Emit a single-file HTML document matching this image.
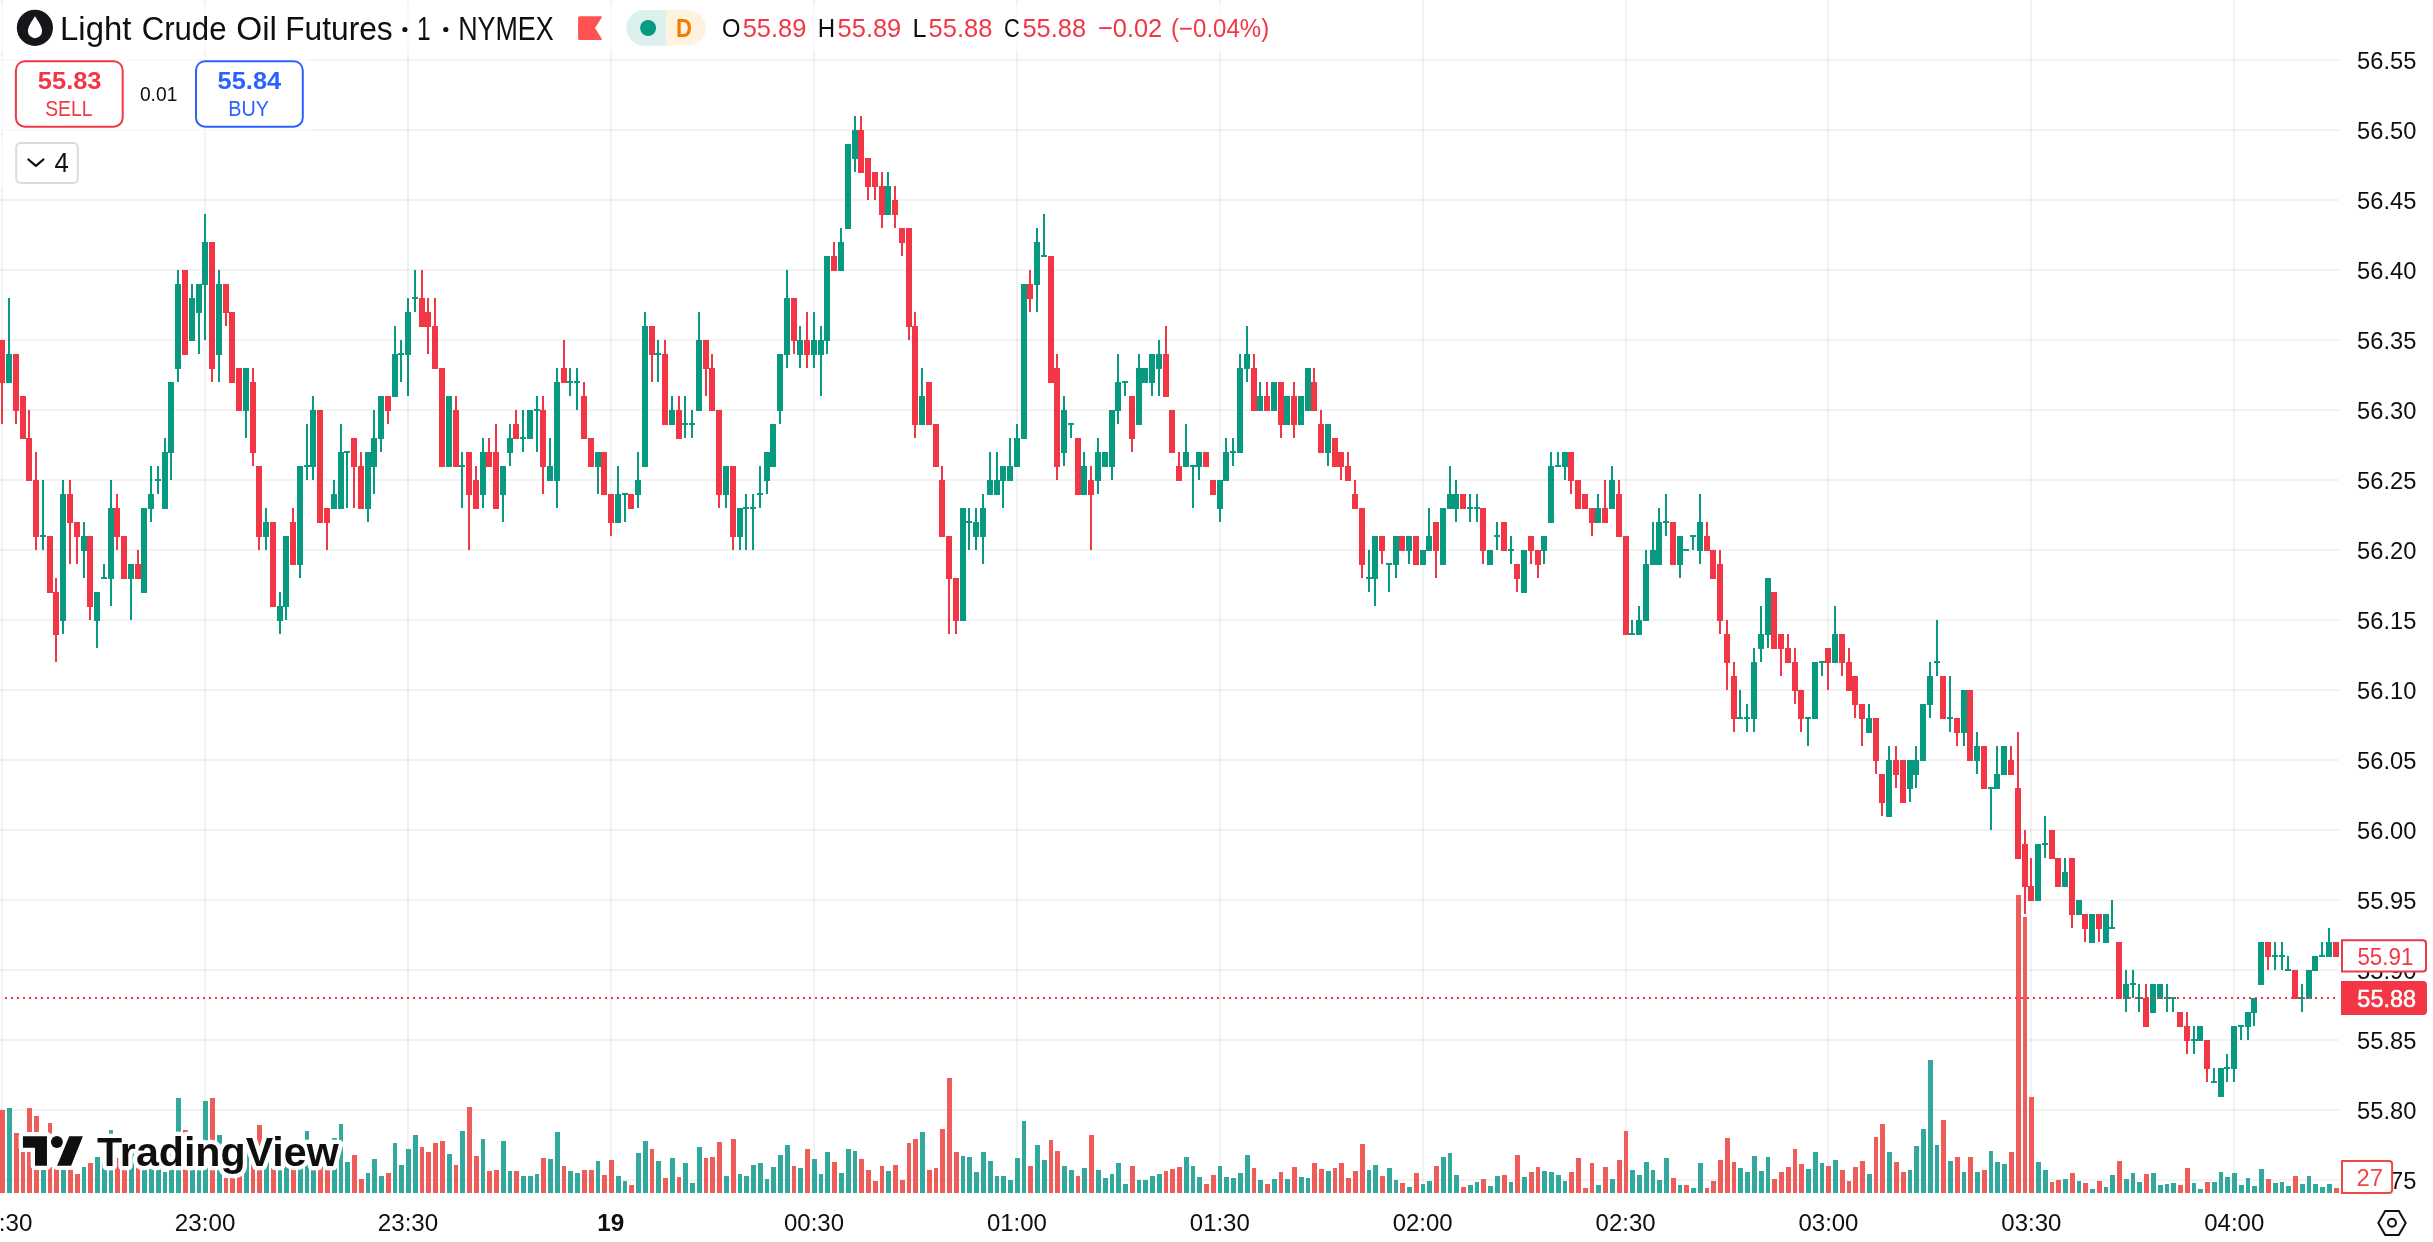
<!DOCTYPE html>
<html><head><meta charset="utf-8"><title>Light Crude Oil Futures</title>
<style>html,body{margin:0;padding:0;background:#fff;}body{width:2433px;height:1242px;position:relative;overflow:hidden;font-family:"Liberation Sans", sans-serif;}</style>
</head><body>
<svg width="2433" height="1242" viewBox="0 0 2433 1242" style="position:absolute;left:0;top:0;font-family:'Liberation Sans', sans-serif" shape-rendering="crispEdges"><rect width="2433" height="1242" fill="#fff"/><path d="M1 0h2v1194h-2zM204 0h2v1194h-2zM407 0h2v1194h-2zM610 0h2v1194h-2zM813 0h2v1194h-2zM1016 0h2v1194h-2zM1219 0h2v1194h-2zM1422 0h2v1194h-2zM1625 0h2v1194h-2zM1827 0h2v1194h-2zM2030 0h2v1194h-2zM2233 0h2v1194h-2z" fill="rgba(0,0,0,0.05)"/><path d="M0 59h2339v2h-2339zM0 129h2339v2h-2339zM0 199h2339v2h-2339zM0 269h2339v2h-2339zM0 339h2339v2h-2339zM0 409h2339v2h-2339zM0 479h2339v2h-2339zM0 549h2339v2h-2339zM0 619h2339v2h-2339zM0 689h2339v2h-2339zM0 759h2339v2h-2339zM0 829h2339v2h-2339zM0 899h2339v2h-2339zM0 969h2339v2h-2339zM0 1039h2339v2h-2339zM0 1109h2339v2h-2339zM0 1179h2339v2h-2339z" fill="rgba(0,0,0,0.05)"/><path d="M0 4h1275v48h-1275zM0 56h310v76h-310zM0 138h84v50h-84z" fill="#fff" fill-opacity="0.6"/><path d="M7 1108h5v85h-5zM41 1153h5v40h-5zM61 1148h5v45h-5zM82 1167h4v26h-4zM95 1157h5v36h-5zM102 1163h5v30h-5zM109 1130h4v63h-4zM129 1153h5v40h-5zM142 1153h5v40h-5zM149 1158h5v35h-5zM156 1163h5v30h-5zM163 1172h4v21h-4zM169 1153h5v40h-5zM176 1098h5v95h-5zM190 1153h5v40h-5zM197 1148h4v45h-4zM203 1101h5v92h-5zM217 1135h5v58h-5zM244 1153h5v40h-5zM264 1158h5v35h-5zM278 1163h4v30h-4zM284 1153h5v40h-5zM298 1148h5v45h-5zM305 1131h4v62h-4zM311 1153h5v40h-5zM332 1138h5v55h-5zM339 1124h4v69h-4zM345 1162h5v31h-5zM366 1173h4v20h-4zM372 1159h5v34h-5zM379 1176h5v17h-5zM393 1143h4v50h-4zM399 1165h5v28h-5zM406 1149h5v44h-5zM413 1135h5v58h-5zM447 1154h5v39h-5zM460 1131h5v62h-5zM481 1139h4v54h-4zM501 1141h5v52h-5zM508 1171h4v22h-4zM521 1176h5v17h-5zM528 1176h5v17h-5zM535 1174h4v19h-4zM548 1159h5v34h-5zM555 1132h5v61h-5zM568 1171h5v22h-5zM575 1173h5v20h-5zM596 1161h4v32h-4zM616 1176h5v17h-5zM623 1181h4v12h-4zM636 1153h5v40h-5zM643 1141h5v52h-5zM656 1161h5v32h-5zM670 1158h5v35h-5zM683 1163h5v30h-5zM690 1183h5v10h-5zM697 1147h5v46h-5zM724 1176h5v17h-5zM738 1174h4v19h-4zM744 1176h5v17h-5zM751 1165h5v28h-5zM758 1163h5v30h-5zM765 1179h4v14h-4zM771 1167h5v26h-5zM778 1155h5v38h-5zM785 1145h5v48h-5zM798 1168h5v25h-5zM812 1159h5v34h-5zM819 1174h4v19h-4zM825 1152h5v41h-5zM839 1173h5v20h-5zM846 1149h5v44h-5zM853 1151h4v42h-4zM886 1171h5v22h-5zM920 1132h5v61h-5zM961 1156h4v37h-4zM967 1157h5v36h-5zM974 1172h5v21h-5zM981 1152h5v41h-5zM988 1161h5v32h-5zM995 1176h4v17h-4zM1001 1176h5v17h-5zM1008 1180h5v13h-5zM1015 1158h5v35h-5zM1022 1121h4v72h-4zM1035 1145h5v48h-5zM1042 1160h5v33h-5zM1062 1166h5v27h-5zM1069 1170h5v23h-5zM1082 1168h5v25h-5zM1096 1170h5v23h-5zM1103 1178h5v15h-5zM1110 1174h4v19h-4zM1116 1163h5v30h-5zM1123 1184h5v9h-5zM1137 1180h4v13h-4zM1143 1180h5v13h-5zM1150 1176h5v17h-5zM1157 1174h5v19h-5zM1184 1157h5v36h-5zM1191 1166h4v27h-4zM1197 1177h5v16h-5zM1218 1166h4v27h-4zM1224 1177h5v16h-5zM1231 1178h5v15h-5zM1238 1173h5v20h-5zM1245 1155h5v38h-5zM1258 1180h5v13h-5zM1272 1179h5v14h-5zM1285 1179h5v14h-5zM1299 1177h5v16h-5zM1306 1178h4v15h-4zM1326 1171h5v22h-5zM1367 1170h4v23h-4zM1373 1165h5v28h-5zM1387 1168h5v25h-5zM1394 1180h4v13h-4zM1407 1187h5v6h-5zM1421 1184h4v9h-4zM1427 1181h5v12h-5zM1441 1157h5v36h-5zM1448 1153h4v40h-4zM1454 1175h5v18h-5zM1468 1185h5v8h-5zM1475 1182h4v11h-4zM1488 1186h5v7h-5zM1495 1176h5v17h-5zM1509 1182h4v11h-4zM1522 1177h5v16h-5zM1542 1171h5v22h-5zM1549 1172h5v21h-5zM1556 1175h5v18h-5zM1563 1181h4v12h-4zM1596 1185h5v8h-5zM1610 1179h5v14h-5zM1630 1170h5v23h-5zM1637 1175h5v18h-5zM1644 1162h5v31h-5zM1651 1170h4v23h-4zM1657 1180h5v13h-5zM1664 1158h5v35h-5zM1678 1185h4v8h-4zM1691 1188h5v5h-5zM1698 1163h5v30h-5zM1738 1168h5v25h-5zM1745 1172h5v21h-5zM1752 1156h5v37h-5zM1759 1171h5v22h-5zM1766 1157h4v36h-4zM1806 1169h5v24h-5zM1813 1152h5v41h-5zM1820 1163h4v30h-4zM1833 1160h5v33h-5zM1867 1174h5v19h-5zM1887 1152h5v41h-5zM1908 1170h4v23h-4zM1914 1146h5v47h-5zM1921 1129h5v64h-5zM1928 1060h5v133h-5zM1935 1145h4v48h-4zM1948 1161h5v32h-5zM1962 1172h4v21h-4zM1975 1172h5v21h-5zM1989 1151h4v42h-4zM1995 1162h5v31h-5zM2002 1164h5v29h-5zM2036 1162h5v31h-5zM2043 1170h5v23h-5zM2063 1179h5v14h-5zM2077 1181h4v12h-4zM2090 1189h5v4h-5zM2104 1187h4v6h-4zM2110 1175h5v18h-5zM2124 1179h5v14h-5zM2131 1173h4v20h-4zM2137 1182h5v11h-5zM2151 1173h5v20h-5zM2158 1185h5v8h-5zM2165 1184h4v9h-4zM2171 1183h5v10h-5zM2192 1183h4v10h-4zM2198 1189h5v4h-5zM2212 1182h5v11h-5zM2219 1172h4v21h-4zM2225 1177h5v16h-5zM2232 1173h5v20h-5zM2239 1185h5v8h-5zM2246 1178h4v15h-4zM2252 1186h5v7h-5zM2259 1169h5v24h-5zM2273 1183h5v10h-5zM2280 1182h4v11h-4zM2286 1186h5v7h-5zM2300 1184h5v9h-5zM2307 1176h4v17h-4zM2313 1184h5v9h-5zM2320 1187h5v6h-5zM2327 1184h5v9h-5z" fill="#33a99e"/><path d="M0 1110h5v83h-5zM14 1133h5v60h-5zM21 1152h4v41h-4zM27 1108h5v85h-5zM34 1116h5v77h-5zM48 1123h4v70h-4zM54 1158h5v35h-5zM68 1158h5v35h-5zM75 1174h5v19h-5zM88 1163h5v30h-5zM115 1158h5v35h-5zM122 1163h5v30h-5zM136 1163h4v30h-4zM183 1130h5v63h-5zM210 1098h5v95h-5zM224 1178h4v15h-4zM230 1163h5v30h-5zM237 1158h5v35h-5zM251 1158h4v35h-4zM257 1125h5v68h-5zM271 1153h5v40h-5zM291 1158h5v35h-5zM318 1148h5v45h-5zM325 1163h5v30h-5zM352 1155h5v38h-5zM359 1179h5v14h-5zM386 1173h5v20h-5zM420 1147h4v46h-4zM426 1152h5v41h-5zM433 1143h5v50h-5zM440 1141h5v52h-5zM454 1165h4v28h-4zM467 1107h5v86h-5zM474 1156h5v37h-5zM487 1171h5v22h-5zM494 1170h5v23h-5zM514 1171h5v22h-5zM541 1158h5v35h-5zM562 1166h4v27h-4zM582 1170h5v23h-5zM589 1170h5v23h-5zM602 1175h5v18h-5zM609 1160h5v33h-5zM629 1185h5v8h-5zM650 1149h4v44h-4zM663 1178h5v15h-5zM677 1177h4v16h-4zM704 1158h4v35h-4zM710 1157h5v36h-5zM717 1142h5v51h-5zM731 1139h5v54h-5zM792 1166h4v27h-4zM805 1149h5v44h-5zM832 1162h5v31h-5zM859 1159h5v34h-5zM866 1170h5v23h-5zM873 1181h5v12h-5zM880 1166h4v27h-4zM893 1165h5v28h-5zM900 1180h5v13h-5zM907 1143h4v50h-4zM913 1139h5v54h-5zM927 1170h5v23h-5zM934 1168h4v25h-4zM940 1129h5v64h-5zM947 1078h5v115h-5zM954 1152h5v41h-5zM1028 1166h5v27h-5zM1049 1140h4v53h-4zM1055 1151h5v42h-5zM1076 1176h4v17h-4zM1089 1135h5v58h-5zM1130 1166h5v27h-5zM1164 1171h4v22h-4zM1170 1169h5v24h-5zM1177 1167h5v26h-5zM1204 1184h5v9h-5zM1211 1175h5v18h-5zM1252 1168h4v25h-4zM1265 1184h5v9h-5zM1279 1172h4v21h-4zM1292 1167h5v26h-5zM1312 1163h5v30h-5zM1319 1169h5v24h-5zM1333 1168h4v25h-4zM1339 1163h5v30h-5zM1346 1178h5v15h-5zM1353 1171h5v22h-5zM1360 1144h5v49h-5zM1380 1176h5v17h-5zM1400 1183h5v10h-5zM1414 1173h5v20h-5zM1434 1166h5v27h-5zM1461 1187h5v6h-5zM1481 1179h5v14h-5zM1502 1175h5v18h-5zM1515 1155h5v38h-5zM1529 1172h5v21h-5zM1536 1167h4v26h-4zM1569 1172h5v21h-5zM1576 1158h5v35h-5zM1583 1188h5v5h-5zM1590 1163h4v30h-4zM1603 1167h5v26h-5zM1617 1160h5v33h-5zM1624 1131h4v62h-4zM1671 1178h5v15h-5zM1684 1185h5v8h-5zM1705 1188h4v5h-4zM1711 1181h5v12h-5zM1718 1160h5v33h-5zM1725 1138h5v55h-5zM1732 1162h4v31h-4zM1772 1179h5v14h-5zM1779 1172h5v21h-5zM1786 1167h5v26h-5zM1793 1149h4v44h-4zM1799 1164h5v29h-5zM1826 1166h5v27h-5zM1840 1170h5v23h-5zM1847 1181h4v12h-4zM1853 1167h5v26h-5zM1860 1161h5v32h-5zM1874 1137h4v56h-4zM1880 1124h5v69h-5zM1894 1162h5v31h-5zM1901 1172h5v21h-5zM1941 1120h5v73h-5zM1955 1157h5v36h-5zM1968 1157h5v36h-5zM1982 1170h5v23h-5zM2009 1152h5v41h-5zM2016 895h5v298h-5zM2023 917h4v276h-4zM2029 1097h5v96h-5zM2050 1182h4v11h-4zM2056 1180h5v13h-5zM2070 1173h5v20h-5zM2083 1183h5v10h-5zM2097 1181h5v12h-5zM2117 1161h5v32h-5zM2144 1174h5v19h-5zM2178 1185h5v8h-5zM2185 1168h5v25h-5zM2205 1182h5v11h-5zM2266 1179h5v14h-5zM2293 1176h5v17h-5zM2334 1188h5v5h-5z" fill="#ee5d59"/><path d="M8 298h2v84h-2zM6 354h6v29h-6zM42 480h2v70h-2zM40 535h6v2h-6zM62 480h2v154h-2zM60 494h6v127h-6zM83 522h2v56h-2zM81 536h6v15h-6zM96 592h2v56h-2zM94 592h6v29h-6zM103 564h2v14h-2zM101 577h6v2h-6zM110 480h2v126h-2zM108 508h6v71h-6zM130 564h2v56h-2zM128 564h6v15h-6zM143 508h2v84h-2zM141 508h6v85h-6zM150 466h2v56h-2zM148 494h6v15h-6zM157 466h2v28h-2zM155 479h6v2h-6zM164 438h2v70h-2zM162 452h6v57h-6zM170 382h2v98h-2zM168 382h6v71h-6zM177 270h2v112h-2zM175 284h6v85h-6zM191 284h2v56h-2zM189 298h6v43h-6zM198 284h2v70h-2zM196 284h6v29h-6zM204 214h2v126h-2zM202 242h6v43h-6zM218 270h2v112h-2zM216 284h6v71h-6zM245 368h2v70h-2zM243 368h6v43h-6zM265 508h2v42h-2zM263 522h6v15h-6zM279 592h2v42h-2zM277 606h6v15h-6zM285 536h2v84h-2zM283 536h6v71h-6zM299 466h2v112h-2zM297 466h6v99h-6zM306 424h2v56h-2zM304 465h6v2h-6zM312 396h2v84h-2zM310 410h6v57h-6zM333 480h2v28h-2zM331 494h6v15h-6zM340 424h2v84h-2zM338 452h6v57h-6zM346 452h2v56h-2zM344 451h6v2h-6zM367 452h2v70h-2zM365 452h6v57h-6zM373 410h2v84h-2zM371 438h6v29h-6zM380 396h2v56h-2zM378 396h6v43h-6zM394 326h2v70h-2zM392 354h6v43h-6zM400 340h2v42h-2zM398 353h6v2h-6zM407 298h2v98h-2zM405 312h6v43h-6zM414 270h2v42h-2zM412 297h6v2h-6zM448 396h2v70h-2zM446 396h6v71h-6zM461 452h2v56h-2zM459 465h6v2h-6zM482 438h2v70h-2zM480 452h6v43h-6zM502 466h2v56h-2zM500 466h6v29h-6zM509 424h2v42h-2zM507 438h6v15h-6zM522 410h2v42h-2zM520 437h6v2h-6zM529 410h2v28h-2zM527 410h6v29h-6zM536 396h2v56h-2zM534 409h6v2h-6zM549 438h2v42h-2zM547 466h6v15h-6zM556 368h2v140h-2zM554 382h6v99h-6zM569 368h2v28h-2zM567 381h6v2h-6zM576 368h2v42h-2zM574 381h6v2h-6zM597 452h2v42h-2zM595 452h6v15h-6zM617 466h2v56h-2zM615 494h6v29h-6zM624 494h2v28h-2zM622 493h6v2h-6zM637 452h2v56h-2zM635 480h6v15h-6zM644 312h2v154h-2zM642 326h6v141h-6zM657 340h2v42h-2zM655 353h6v2h-6zM671 396h2v28h-2zM669 410h6v15h-6zM684 396h2v42h-2zM682 423h6v2h-6zM691 410h2v28h-2zM689 423h6v2h-6zM698 312h2v98h-2zM696 340h6v71h-6zM725 466h2v42h-2zM723 466h6v29h-6zM739 508h2v42h-2zM737 508h6v29h-6zM745 494h2v56h-2zM743 507h6v2h-6zM752 494h2v56h-2zM750 507h6v2h-6zM759 466h2v42h-2zM757 493h6v2h-6zM766 452h2v42h-2zM764 452h6v29h-6zM772 424h2v42h-2zM770 424h6v43h-6zM779 354h2v70h-2zM777 354h6v57h-6zM786 270h2v98h-2zM784 298h6v57h-6zM799 326h2v42h-2zM797 340h6v15h-6zM813 312h2v56h-2zM811 340h6v15h-6zM820 326h2v70h-2zM818 340h6v15h-6zM826 256h2v98h-2zM824 256h6v85h-6zM840 228h2v42h-2zM838 242h6v29h-6zM847 144h2v84h-2zM845 144h6v85h-6zM854 116h2v56h-2zM852 130h6v29h-6zM887 172h2v42h-2zM885 186h6v29h-6zM921 368h2v56h-2zM919 396h6v29h-6zM962 508h2v112h-2zM960 508h6v113h-6zM968 508h2v42h-2zM966 521h6v2h-6zM975 508h2v42h-2zM973 522h6v15h-6zM982 494h2v70h-2zM980 508h6v29h-6zM989 452h2v42h-2zM987 480h6v15h-6zM996 452h2v42h-2zM994 480h6v15h-6zM1002 466h2v42h-2zM1000 466h6v15h-6zM1009 438h2v42h-2zM1007 466h6v15h-6zM1016 424h2v42h-2zM1014 438h6v29h-6zM1023 284h2v154h-2zM1021 284h6v155h-6zM1036 228h2v84h-2zM1034 242h6v43h-6zM1043 214h2v42h-2zM1041 255h6v2h-6zM1063 396h2v70h-2zM1061 410h6v43h-6zM1070 424h2v14h-2zM1068 423h6v2h-6zM1083 452h2v42h-2zM1081 466h6v29h-6zM1097 438h2v56h-2zM1095 452h6v29h-6zM1104 452h2v14h-2zM1102 452h6v15h-6zM1111 410h2v70h-2zM1109 410h6v57h-6zM1117 354h2v70h-2zM1115 382h6v29h-6zM1124 382h2v14h-2zM1122 381h6v2h-6zM1138 354h2v70h-2zM1136 368h6v57h-6zM1144 368h2v14h-2zM1142 368h6v15h-6zM1151 354h2v42h-2zM1149 354h6v29h-6zM1158 340h2v56h-2zM1156 354h6v15h-6zM1185 424h2v42h-2zM1183 452h6v15h-6zM1192 466h2v42h-2zM1190 465h6v2h-6zM1198 452h2v28h-2zM1196 452h6v15h-6zM1219 480h2v42h-2zM1217 480h6v29h-6zM1225 438h2v42h-2zM1223 452h6v29h-6zM1232 438h2v28h-2zM1230 451h6v2h-6zM1239 354h2v98h-2zM1237 368h6v85h-6zM1246 326h2v56h-2zM1244 354h6v15h-6zM1259 382h2v28h-2zM1257 396h6v15h-6zM1273 382h2v28h-2zM1271 382h6v29h-6zM1286 396h2v28h-2zM1284 396h6v29h-6zM1300 396h2v28h-2zM1298 396h6v29h-6zM1307 368h2v42h-2zM1305 368h6v43h-6zM1327 424h2v42h-2zM1325 424h6v29h-6zM1368 550h2v42h-2zM1366 577h6v2h-6zM1374 536h2v70h-2zM1372 536h6v43h-6zM1388 564h2v28h-2zM1386 563h6v2h-6zM1395 536h2v42h-2zM1393 536h6v29h-6zM1408 536h2v28h-2zM1406 536h6v15h-6zM1422 550h2v14h-2zM1420 550h6v15h-6zM1428 508h2v42h-2zM1426 536h6v15h-6zM1442 508h2v56h-2zM1440 508h6v57h-6zM1449 466h2v42h-2zM1447 494h6v15h-6zM1455 480h2v42h-2zM1453 494h6v15h-6zM1469 494h2v28h-2zM1467 507h6v2h-6zM1476 494h2v28h-2zM1474 507h6v2h-6zM1489 550h2v14h-2zM1487 550h6v15h-6zM1496 522h2v28h-2zM1494 535h6v2h-6zM1510 536h2v28h-2zM1508 549h6v2h-6zM1523 550h2v42h-2zM1521 550h6v43h-6zM1543 536h2v28h-2zM1541 536h6v15h-6zM1550 452h2v70h-2zM1548 466h6v57h-6zM1557 452h2v14h-2zM1555 465h6v2h-6zM1564 452h2v28h-2zM1562 452h6v15h-6zM1597 494h2v28h-2zM1595 508h6v15h-6zM1611 466h2v42h-2zM1609 480h6v29h-6zM1631 620h2v14h-2zM1629 633h6v2h-6zM1638 606h2v28h-2zM1636 620h6v15h-6zM1645 550h2v70h-2zM1643 564h6v57h-6zM1652 522h2v42h-2zM1650 550h6v15h-6zM1658 508h2v56h-2zM1656 522h6v43h-6zM1665 494h2v42h-2zM1663 521h6v2h-6zM1679 536h2v42h-2zM1677 536h6v29h-6zM1683 549h6v2h-6zM1692 536h2v14h-2zM1690 535h6v2h-6zM1699 494h2v70h-2zM1697 522h6v29h-6zM1739 690h2v28h-2zM1737 717h6v2h-6zM1746 704h2v28h-2zM1744 717h6v2h-6zM1753 648h2v84h-2zM1751 662h6v57h-6zM1760 606h2v56h-2zM1758 634h6v15h-6zM1767 578h2v70h-2zM1765 578h6v57h-6zM1807 718h2v28h-2zM1805 717h6v2h-6zM1814 662h2v56h-2zM1812 662h6v57h-6zM1821 662h2v14h-2zM1819 661h6v2h-6zM1834 606h2v56h-2zM1832 634h6v29h-6zM1868 704h2v28h-2zM1866 718h6v15h-6zM1888 746h2v70h-2zM1886 760h6v57h-6zM1909 760h2v42h-2zM1907 760h6v29h-6zM1915 746h2v42h-2zM1913 760h6v15h-6zM1922 704h2v56h-2zM1920 704h6v57h-6zM1929 662h2v56h-2zM1927 676h6v29h-6zM1936 620h2v56h-2zM1934 661h6v2h-6zM1949 676h2v56h-2zM1947 717h6v2h-6zM1963 690h2v56h-2zM1961 690h6v43h-6zM1976 732h2v42h-2zM1974 746h6v15h-6zM1990 788h2v42h-2zM1988 787h6v2h-6zM1996 746h2v42h-2zM1994 774h6v15h-6zM2003 746h2v28h-2zM2001 746h6v29h-6zM2037 844h2v56h-2zM2035 844h6v57h-6zM2044 816h2v42h-2zM2042 843h6v2h-6zM2064 858h2v28h-2zM2062 872h6v15h-6zM2078 900h2v14h-2zM2076 900h6v15h-6zM2091 914h2v28h-2zM2089 914h6v29h-6zM2105 914h2v28h-2zM2103 914h6v29h-6zM2111 900h2v28h-2zM2109 927h6v2h-6zM2125 970h2v42h-2zM2123 984h6v15h-6zM2132 970h2v28h-2zM2130 983h6v2h-6zM2138 984h2v28h-2zM2136 997h6v2h-6zM2152 984h2v28h-2zM2150 984h6v29h-6zM2159 984h2v14h-2zM2157 984h6v15h-6zM2166 984h2v28h-2zM2164 997h6v2h-6zM2172 998h2v14h-2zM2170 997h6v2h-6zM2193 1026h2v28h-2zM2191 1039h6v2h-6zM2199 1026h2v14h-2zM2197 1026h6v15h-6zM2213 1068h2v14h-2zM2211 1081h6v2h-6zM2220 1068h2v28h-2zM2218 1068h6v29h-6zM2226 1054h2v28h-2zM2224 1067h6v2h-6zM2233 1026h2v56h-2zM2231 1026h6v43h-6zM2240 1026h2v14h-2zM2238 1025h6v2h-6zM2247 1012h2v28h-2zM2245 1012h6v15h-6zM2253 998h2v28h-2zM2251 998h6v15h-6zM2260 942h2v42h-2zM2258 942h6v43h-6zM2274 942h2v28h-2zM2272 955h6v2h-6zM2281 942h2v28h-2zM2279 955h6v2h-6zM2287 956h2v14h-2zM2285 969h6v2h-6zM2301 984h2v28h-2zM2299 997h6v2h-6zM2308 970h2v28h-2zM2306 970h6v29h-6zM2314 956h2v14h-2zM2312 956h6v15h-6zM2321 942h2v14h-2zM2319 955h6v2h-6zM2328 928h2v28h-2zM2326 942h6v15h-6z" fill="#089981"/><path d="M1 340h2v84h-2zM0 340h5v43h-5zM15 354h2v70h-2zM13 354h6v57h-6zM22 396h2v42h-2zM20 396h6v43h-6zM28 410h2v70h-2zM26 438h6v43h-6zM35 452h2v98h-2zM33 480h6v57h-6zM49 536h2v56h-2zM47 536h6v57h-6zM55 578h2v84h-2zM53 592h6v43h-6zM69 480h2v84h-2zM67 494h6v29h-6zM76 522h2v42h-2zM74 522h6v15h-6zM89 536h2v84h-2zM87 536h6v71h-6zM116 494h2v56h-2zM114 508h6v29h-6zM123 536h2v42h-2zM121 536h6v43h-6zM137 550h2v28h-2zM135 564h6v15h-6zM184 270h2v84h-2zM182 270h6v85h-6zM211 242h2v140h-2zM209 242h6v127h-6zM225 284h2v42h-2zM223 284h6v29h-6zM231 312h2v70h-2zM229 312h6v71h-6zM238 368h2v42h-2zM236 368h6v43h-6zM252 368h2v98h-2zM250 382h6v71h-6zM258 466h2v84h-2zM256 466h6v71h-6zM272 522h2v84h-2zM270 522h6v85h-6zM292 508h2v56h-2zM290 522h6v43h-6zM319 410h2v112h-2zM317 410h6v113h-6zM326 508h2v42h-2zM324 508h6v15h-6zM353 438h2v70h-2zM351 438h6v29h-6zM360 452h2v56h-2zM358 466h6v43h-6zM387 396h2v28h-2zM385 396h6v15h-6zM421 270h2v56h-2zM419 298h6v29h-6zM427 298h2v56h-2zM425 312h6v15h-6zM434 298h2v70h-2zM432 326h6v43h-6zM441 368h2v98h-2zM439 368h6v99h-6zM455 396h2v70h-2zM453 410h6v57h-6zM468 452h2v98h-2zM466 452h6v43h-6zM475 466h2v42h-2zM473 480h6v29h-6zM488 438h2v28h-2zM486 452h6v15h-6zM495 424h2v84h-2zM493 452h6v57h-6zM515 410h2v28h-2zM513 424h6v15h-6zM542 396h2v98h-2zM540 410h6v57h-6zM563 340h2v42h-2zM561 368h6v15h-6zM583 382h2v56h-2zM581 396h6v43h-6zM590 438h2v28h-2zM588 438h6v29h-6zM603 452h2v42h-2zM601 452h6v43h-6zM610 494h2v42h-2zM608 494h6v29h-6zM630 494h2v14h-2zM628 494h6v15h-6zM651 326h2v56h-2zM649 326h6v29h-6zM664 340h2v84h-2zM662 354h6v71h-6zM678 396h2v42h-2zM676 410h6v29h-6zM705 340h2v56h-2zM703 340h6v29h-6zM711 354h2v56h-2zM709 368h6v43h-6zM718 410h2v98h-2zM716 410h6v85h-6zM732 466h2v84h-2zM730 466h6v71h-6zM793 298h2v56h-2zM791 298h6v43h-6zM806 312h2v56h-2zM804 340h6v15h-6zM833 242h2v28h-2zM831 256h6v15h-6zM860 116h2v56h-2zM858 130h6v43h-6zM867 158h2v42h-2zM865 158h6v29h-6zM874 172h2v28h-2zM872 172h6v15h-6zM881 172h2v56h-2zM879 186h6v29h-6zM894 186h2v42h-2zM892 200h6v15h-6zM901 228h2v28h-2zM899 228h6v15h-6zM908 228h2v112h-2zM906 228h6v99h-6zM914 312h2v126h-2zM912 326h6v99h-6zM928 382h2v42h-2zM926 382h6v43h-6zM935 424h2v42h-2zM933 424h6v43h-6zM941 466h2v70h-2zM939 480h6v57h-6zM948 536h2v98h-2zM946 536h6v43h-6zM955 578h2v56h-2zM953 578h6v43h-6zM1029 270h2v42h-2zM1027 284h6v15h-6zM1050 256h2v126h-2zM1048 256h6v127h-6zM1056 354h2v126h-2zM1054 368h6v99h-6zM1077 438h2v56h-2zM1075 438h6v57h-6zM1090 466h2v84h-2zM1088 480h6v15h-6zM1131 396h2v56h-2zM1129 396h6v43h-6zM1165 326h2v70h-2zM1163 354h6v43h-6zM1171 410h2v42h-2zM1169 410h6v43h-6zM1178 452h2v28h-2zM1176 466h6v15h-6zM1205 452h2v14h-2zM1203 452h6v15h-6zM1212 480h2v14h-2zM1210 480h6v15h-6zM1253 354h2v56h-2zM1251 368h6v43h-6zM1266 382h2v28h-2zM1264 396h6v15h-6zM1280 382h2v56h-2zM1278 382h6v43h-6zM1293 382h2v56h-2zM1291 396h6v29h-6zM1313 368h2v42h-2zM1311 382h6v29h-6zM1320 410h2v42h-2zM1318 424h6v29h-6zM1334 438h2v28h-2zM1332 438h6v29h-6zM1340 452h2v28h-2zM1338 452h6v15h-6zM1347 452h2v28h-2zM1345 466h6v15h-6zM1354 480h2v28h-2zM1352 494h6v15h-6zM1361 508h2v70h-2zM1359 508h6v57h-6zM1381 536h2v28h-2zM1379 536h6v15h-6zM1401 536h2v14h-2zM1399 536h6v15h-6zM1415 536h2v28h-2zM1413 536h6v29h-6zM1435 522h2v56h-2zM1433 522h6v29h-6zM1462 494h2v14h-2zM1460 494h6v15h-6zM1482 508h2v56h-2zM1480 508h6v43h-6zM1503 522h2v28h-2zM1501 522h6v29h-6zM1516 564h2v28h-2zM1514 564h6v15h-6zM1530 536h2v28h-2zM1528 536h6v15h-6zM1537 550h2v28h-2zM1535 550h6v15h-6zM1570 452h2v42h-2zM1568 452h6v29h-6zM1577 480h2v28h-2zM1575 480h6v29h-6zM1584 494h2v14h-2zM1582 494h6v15h-6zM1591 508h2v28h-2zM1589 508h6v15h-6zM1604 480h2v42h-2zM1602 508h6v15h-6zM1618 480h2v56h-2zM1616 494h6v43h-6zM1625 536h2v98h-2zM1623 536h6v99h-6zM1672 522h2v42h-2zM1670 522h6v43h-6zM1706 522h2v28h-2zM1704 536h6v15h-6zM1712 550h2v28h-2zM1710 550h6v29h-6zM1719 550h2v84h-2zM1717 564h6v57h-6zM1726 620h2v70h-2zM1724 634h6v29h-6zM1733 662h2v70h-2zM1731 676h6v43h-6zM1773 592h2v56h-2zM1771 592h6v57h-6zM1780 634h2v42h-2zM1778 634h6v15h-6zM1787 634h2v28h-2zM1785 648h6v15h-6zM1794 648h2v56h-2zM1792 662h6v29h-6zM1800 690h2v42h-2zM1798 690h6v29h-6zM1827 648h2v42h-2zM1825 648h6v15h-6zM1841 634h2v42h-2zM1839 634h6v29h-6zM1848 648h2v42h-2zM1846 662h6v29h-6zM1854 676h2v42h-2zM1852 676h6v29h-6zM1861 704h2v42h-2zM1859 704h6v15h-6zM1875 718h2v56h-2zM1873 718h6v43h-6zM1881 774h2v42h-2zM1879 774h6v29h-6zM1895 746h2v42h-2zM1893 760h6v15h-6zM1902 760h2v42h-2zM1900 760h6v43h-6zM1942 676h2v42h-2zM1940 676h6v43h-6zM1956 718h2v28h-2zM1954 718h6v15h-6zM1969 690h2v70h-2zM1967 690h6v71h-6zM1983 746h2v42h-2zM1981 746h6v43h-6zM2010 746h2v28h-2zM2008 760h6v15h-6zM2017 732h2v126h-2zM2015 788h6v71h-6zM2024 830h2v84h-2zM2022 844h6v43h-6zM2030 858h2v42h-2zM2028 886h6v15h-6zM2051 830h2v28h-2zM2049 830h6v29h-6zM2057 858h2v28h-2zM2055 858h6v29h-6zM2071 858h2v70h-2zM2069 858h6v57h-6zM2084 914h2v28h-2zM2082 914h6v15h-6zM2098 914h2v28h-2zM2096 914h6v15h-6zM2118 942h2v56h-2zM2116 942h6v57h-6zM2145 984h2v42h-2zM2143 998h6v29h-6zM2179 1012h2v14h-2zM2177 1012h6v15h-6zM2186 1012h2v42h-2zM2184 1026h6v15h-6zM2206 1040h2v42h-2zM2204 1040h6v29h-6zM2267 942h2v28h-2zM2265 942h6v15h-6zM2294 970h2v28h-2zM2292 970h6v29h-6zM2335 942h2v14h-2zM2333 942h6v15h-6z" fill="#f23645"/><path d="M5 997h2v2h-2zM11 997h2v2h-2zM17 997h2v2h-2zM23 997h2v2h-2zM29 997h2v2h-2zM35 997h2v2h-2zM41 997h2v2h-2zM47 997h2v2h-2zM53 997h2v2h-2zM59 997h2v2h-2zM65 997h2v2h-2zM71 997h2v2h-2zM77 997h2v2h-2zM83 997h2v2h-2zM89 997h2v2h-2zM95 997h2v2h-2zM101 997h2v2h-2zM107 997h2v2h-2zM113 997h2v2h-2zM119 997h2v2h-2zM125 997h2v2h-2zM131 997h2v2h-2zM137 997h2v2h-2zM143 997h2v2h-2zM149 997h2v2h-2zM155 997h2v2h-2zM161 997h2v2h-2zM167 997h2v2h-2zM173 997h2v2h-2zM179 997h2v2h-2zM185 997h2v2h-2zM191 997h2v2h-2zM197 997h2v2h-2zM203 997h2v2h-2zM209 997h2v2h-2zM215 997h2v2h-2zM221 997h2v2h-2zM227 997h2v2h-2zM233 997h2v2h-2zM239 997h2v2h-2zM245 997h2v2h-2zM251 997h2v2h-2zM257 997h2v2h-2zM263 997h2v2h-2zM269 997h2v2h-2zM275 997h2v2h-2zM281 997h2v2h-2zM287 997h2v2h-2zM293 997h2v2h-2zM299 997h2v2h-2zM305 997h2v2h-2zM311 997h2v2h-2zM317 997h2v2h-2zM323 997h2v2h-2zM329 997h2v2h-2zM335 997h2v2h-2zM341 997h2v2h-2zM347 997h2v2h-2zM353 997h2v2h-2zM359 997h2v2h-2zM365 997h2v2h-2zM371 997h2v2h-2zM377 997h2v2h-2zM383 997h2v2h-2zM389 997h2v2h-2zM395 997h2v2h-2zM401 997h2v2h-2zM407 997h2v2h-2zM413 997h2v2h-2zM419 997h2v2h-2zM425 997h2v2h-2zM431 997h2v2h-2zM437 997h2v2h-2zM443 997h2v2h-2zM449 997h2v2h-2zM455 997h2v2h-2zM461 997h2v2h-2zM467 997h2v2h-2zM473 997h2v2h-2zM479 997h2v2h-2zM485 997h2v2h-2zM491 997h2v2h-2zM497 997h2v2h-2zM503 997h2v2h-2zM509 997h2v2h-2zM515 997h2v2h-2zM521 997h2v2h-2zM527 997h2v2h-2zM533 997h2v2h-2zM539 997h2v2h-2zM545 997h2v2h-2zM551 997h2v2h-2zM557 997h2v2h-2zM563 997h2v2h-2zM569 997h2v2h-2zM575 997h2v2h-2zM581 997h2v2h-2zM587 997h2v2h-2zM593 997h2v2h-2zM599 997h2v2h-2zM605 997h2v2h-2zM611 997h2v2h-2zM617 997h2v2h-2zM623 997h2v2h-2zM629 997h2v2h-2zM635 997h2v2h-2zM641 997h2v2h-2zM647 997h2v2h-2zM653 997h2v2h-2zM659 997h2v2h-2zM665 997h2v2h-2zM671 997h2v2h-2zM677 997h2v2h-2zM683 997h2v2h-2zM689 997h2v2h-2zM695 997h2v2h-2zM701 997h2v2h-2zM707 997h2v2h-2zM713 997h2v2h-2zM719 997h2v2h-2zM725 997h2v2h-2zM731 997h2v2h-2zM737 997h2v2h-2zM743 997h2v2h-2zM749 997h2v2h-2zM755 997h2v2h-2zM761 997h2v2h-2zM767 997h2v2h-2zM773 997h2v2h-2zM779 997h2v2h-2zM785 997h2v2h-2zM791 997h2v2h-2zM797 997h2v2h-2zM803 997h2v2h-2zM809 997h2v2h-2zM815 997h2v2h-2zM821 997h2v2h-2zM827 997h2v2h-2zM833 997h2v2h-2zM839 997h2v2h-2zM845 997h2v2h-2zM851 997h2v2h-2zM857 997h2v2h-2zM863 997h2v2h-2zM869 997h2v2h-2zM875 997h2v2h-2zM881 997h2v2h-2zM887 997h2v2h-2zM893 997h2v2h-2zM899 997h2v2h-2zM905 997h2v2h-2zM911 997h2v2h-2zM917 997h2v2h-2zM923 997h2v2h-2zM929 997h2v2h-2zM935 997h2v2h-2zM941 997h2v2h-2zM947 997h2v2h-2zM953 997h2v2h-2zM959 997h2v2h-2zM965 997h2v2h-2zM971 997h2v2h-2zM977 997h2v2h-2zM983 997h2v2h-2zM989 997h2v2h-2zM995 997h2v2h-2zM1001 997h2v2h-2zM1007 997h2v2h-2zM1013 997h2v2h-2zM1019 997h2v2h-2zM1025 997h2v2h-2zM1031 997h2v2h-2zM1037 997h2v2h-2zM1043 997h2v2h-2zM1049 997h2v2h-2zM1055 997h2v2h-2zM1061 997h2v2h-2zM1067 997h2v2h-2zM1073 997h2v2h-2zM1079 997h2v2h-2zM1085 997h2v2h-2zM1091 997h2v2h-2zM1097 997h2v2h-2zM1103 997h2v2h-2zM1109 997h2v2h-2zM1115 997h2v2h-2zM1121 997h2v2h-2zM1127 997h2v2h-2zM1133 997h2v2h-2zM1139 997h2v2h-2zM1145 997h2v2h-2zM1151 997h2v2h-2zM1157 997h2v2h-2zM1163 997h2v2h-2zM1169 997h2v2h-2zM1175 997h2v2h-2zM1181 997h2v2h-2zM1187 997h2v2h-2zM1193 997h2v2h-2zM1199 997h2v2h-2zM1205 997h2v2h-2zM1211 997h2v2h-2zM1217 997h2v2h-2zM1223 997h2v2h-2zM1229 997h2v2h-2zM1235 997h2v2h-2zM1241 997h2v2h-2zM1247 997h2v2h-2zM1253 997h2v2h-2zM1259 997h2v2h-2zM1265 997h2v2h-2zM1271 997h2v2h-2zM1277 997h2v2h-2zM1283 997h2v2h-2zM1289 997h2v2h-2zM1295 997h2v2h-2zM1301 997h2v2h-2zM1307 997h2v2h-2zM1313 997h2v2h-2zM1319 997h2v2h-2zM1325 997h2v2h-2zM1331 997h2v2h-2zM1337 997h2v2h-2zM1343 997h2v2h-2zM1349 997h2v2h-2zM1355 997h2v2h-2zM1361 997h2v2h-2zM1367 997h2v2h-2zM1373 997h2v2h-2zM1379 997h2v2h-2zM1385 997h2v2h-2zM1391 997h2v2h-2zM1397 997h2v2h-2zM1403 997h2v2h-2zM1409 997h2v2h-2zM1415 997h2v2h-2zM1421 997h2v2h-2zM1427 997h2v2h-2zM1433 997h2v2h-2zM1439 997h2v2h-2zM1445 997h2v2h-2zM1451 997h2v2h-2zM1457 997h2v2h-2zM1463 997h2v2h-2zM1469 997h2v2h-2zM1475 997h2v2h-2zM1481 997h2v2h-2zM1487 997h2v2h-2zM1493 997h2v2h-2zM1499 997h2v2h-2zM1505 997h2v2h-2zM1511 997h2v2h-2zM1517 997h2v2h-2zM1523 997h2v2h-2zM1529 997h2v2h-2zM1535 997h2v2h-2zM1541 997h2v2h-2zM1547 997h2v2h-2zM1553 997h2v2h-2zM1559 997h2v2h-2zM1565 997h2v2h-2zM1571 997h2v2h-2zM1577 997h2v2h-2zM1583 997h2v2h-2zM1589 997h2v2h-2zM1595 997h2v2h-2zM1601 997h2v2h-2zM1607 997h2v2h-2zM1613 997h2v2h-2zM1619 997h2v2h-2zM1625 997h2v2h-2zM1631 997h2v2h-2zM1637 997h2v2h-2zM1643 997h2v2h-2zM1649 997h2v2h-2zM1655 997h2v2h-2zM1661 997h2v2h-2zM1667 997h2v2h-2zM1673 997h2v2h-2zM1679 997h2v2h-2zM1685 997h2v2h-2zM1691 997h2v2h-2zM1697 997h2v2h-2zM1703 997h2v2h-2zM1709 997h2v2h-2zM1715 997h2v2h-2zM1721 997h2v2h-2zM1727 997h2v2h-2zM1733 997h2v2h-2zM1739 997h2v2h-2zM1745 997h2v2h-2zM1751 997h2v2h-2zM1757 997h2v2h-2zM1763 997h2v2h-2zM1769 997h2v2h-2zM1775 997h2v2h-2zM1781 997h2v2h-2zM1787 997h2v2h-2zM1793 997h2v2h-2zM1799 997h2v2h-2zM1805 997h2v2h-2zM1811 997h2v2h-2zM1817 997h2v2h-2zM1823 997h2v2h-2zM1829 997h2v2h-2zM1835 997h2v2h-2zM1841 997h2v2h-2zM1847 997h2v2h-2zM1853 997h2v2h-2zM1859 997h2v2h-2zM1865 997h2v2h-2zM1871 997h2v2h-2zM1877 997h2v2h-2zM1883 997h2v2h-2zM1889 997h2v2h-2zM1895 997h2v2h-2zM1901 997h2v2h-2zM1907 997h2v2h-2zM1913 997h2v2h-2zM1919 997h2v2h-2zM1925 997h2v2h-2zM1931 997h2v2h-2zM1937 997h2v2h-2zM1943 997h2v2h-2zM1949 997h2v2h-2zM1955 997h2v2h-2zM1961 997h2v2h-2zM1967 997h2v2h-2zM1973 997h2v2h-2zM1979 997h2v2h-2zM1985 997h2v2h-2zM1991 997h2v2h-2zM1997 997h2v2h-2zM2003 997h2v2h-2zM2009 997h2v2h-2zM2015 997h2v2h-2zM2021 997h2v2h-2zM2027 997h2v2h-2zM2033 997h2v2h-2zM2039 997h2v2h-2zM2045 997h2v2h-2zM2051 997h2v2h-2zM2057 997h2v2h-2zM2063 997h2v2h-2zM2069 997h2v2h-2zM2075 997h2v2h-2zM2081 997h2v2h-2zM2087 997h2v2h-2zM2093 997h2v2h-2zM2099 997h2v2h-2zM2105 997h2v2h-2zM2111 997h2v2h-2zM2117 997h2v2h-2zM2123 997h2v2h-2zM2129 997h2v2h-2zM2135 997h2v2h-2zM2141 997h2v2h-2zM2147 997h2v2h-2zM2153 997h2v2h-2zM2159 997h2v2h-2zM2165 997h2v2h-2zM2171 997h2v2h-2zM2177 997h2v2h-2zM2183 997h2v2h-2zM2189 997h2v2h-2zM2195 997h2v2h-2zM2201 997h2v2h-2zM2207 997h2v2h-2zM2213 997h2v2h-2zM2219 997h2v2h-2zM2225 997h2v2h-2zM2231 997h2v2h-2zM2237 997h2v2h-2zM2243 997h2v2h-2zM2249 997h2v2h-2zM2255 997h2v2h-2zM2261 997h2v2h-2zM2267 997h2v2h-2zM2273 997h2v2h-2zM2279 997h2v2h-2zM2285 997h2v2h-2zM2291 997h2v2h-2zM2297 997h2v2h-2zM2303 997h2v2h-2zM2309 997h2v2h-2zM2315 997h2v2h-2zM2321 997h2v2h-2zM2327 997h2v2h-2zM2333 997h2v2h-2z" fill="#f23645"/></svg><svg width="2433" height="1242" viewBox="0 0 2433 1242" style="position:absolute;left:0;top:0;will-change:transform;font-family:'Liberation Sans', sans-serif"><g stroke="#fff" stroke-width="8.6" stroke-linejoin="round" fill="#fff"><path d="M22.95 1136.2H46.96V1165.8H35V1147.8H22.95Z"/><circle cx="56.9" cy="1142" r="5.95"/><path d="M69.2 1136.2H82.9L71.1 1165.8H57.1Z"/><text x="97" y="1165.8" font-size="41.3" font-weight="700" text-anchor="start" textLength="241.7" lengthAdjust="spacingAndGlyphs">TradingView</text></g><rect x="46" y="1146" width="13" height="21" fill="#fff"/><g fill="#0f0f0f"><path d="M22.95 1136.2H46.96V1165.8H35V1147.8H22.95Z"/><circle cx="56.9" cy="1142" r="5.95"/><path d="M69.2 1136.2H82.9L71.1 1165.8H57.1Z"/><text x="97" y="1165.8" font-size="41.3" font-weight="700" text-anchor="start" textLength="241.7" lengthAdjust="spacingAndGlyphs">TradingView</text></g><text x="2357.05" y="68.6" font-size="23.5" font-weight="400" fill="#0f0f0f" text-anchor="start" textLength="59.3" lengthAdjust="spacingAndGlyphs">56.55</text><text x="2357.05" y="138.6" font-size="23.5" font-weight="400" fill="#0f0f0f" text-anchor="start" textLength="59.3" lengthAdjust="spacingAndGlyphs">56.50</text><text x="2357.05" y="208.6" font-size="23.5" font-weight="400" fill="#0f0f0f" text-anchor="start" textLength="59.3" lengthAdjust="spacingAndGlyphs">56.45</text><text x="2357.05" y="278.6" font-size="23.5" font-weight="400" fill="#0f0f0f" text-anchor="start" textLength="59.3" lengthAdjust="spacingAndGlyphs">56.40</text><text x="2357.05" y="348.6" font-size="23.5" font-weight="400" fill="#0f0f0f" text-anchor="start" textLength="59.3" lengthAdjust="spacingAndGlyphs">56.35</text><text x="2357.05" y="418.6" font-size="23.5" font-weight="400" fill="#0f0f0f" text-anchor="start" textLength="59.3" lengthAdjust="spacingAndGlyphs">56.30</text><text x="2357.05" y="488.6" font-size="23.5" font-weight="400" fill="#0f0f0f" text-anchor="start" textLength="59.3" lengthAdjust="spacingAndGlyphs">56.25</text><text x="2357.05" y="558.6" font-size="23.5" font-weight="400" fill="#0f0f0f" text-anchor="start" textLength="59.3" lengthAdjust="spacingAndGlyphs">56.20</text><text x="2357.05" y="628.6" font-size="23.5" font-weight="400" fill="#0f0f0f" text-anchor="start" textLength="59.3" lengthAdjust="spacingAndGlyphs">56.15</text><text x="2357.05" y="698.6" font-size="23.5" font-weight="400" fill="#0f0f0f" text-anchor="start" textLength="59.3" lengthAdjust="spacingAndGlyphs">56.10</text><text x="2357.05" y="768.6" font-size="23.5" font-weight="400" fill="#0f0f0f" text-anchor="start" textLength="59.3" lengthAdjust="spacingAndGlyphs">56.05</text><text x="2357.05" y="838.6" font-size="23.5" font-weight="400" fill="#0f0f0f" text-anchor="start" textLength="59.3" lengthAdjust="spacingAndGlyphs">56.00</text><text x="2357.05" y="908.6" font-size="23.5" font-weight="400" fill="#0f0f0f" text-anchor="start" textLength="59.3" lengthAdjust="spacingAndGlyphs">55.95</text><text x="2357.05" y="978.6" font-size="23.5" font-weight="400" fill="#0f0f0f" text-anchor="start" textLength="59.3" lengthAdjust="spacingAndGlyphs">55.90</text><text x="2357.05" y="1048.6" font-size="23.5" font-weight="400" fill="#0f0f0f" text-anchor="start" textLength="59.3" lengthAdjust="spacingAndGlyphs">55.85</text><text x="2357.05" y="1118.6" font-size="23.5" font-weight="400" fill="#0f0f0f" text-anchor="start" textLength="59.3" lengthAdjust="spacingAndGlyphs">55.80</text><text x="2357.05" y="1188.6" font-size="23.5" font-weight="400" fill="#0f0f0f" text-anchor="start" textLength="59.3" lengthAdjust="spacingAndGlyphs">55.75</text><path d="M2341 939.2H2423a4 4 0 0 1 4 4V968.6a4 4 0 0 1 -4 4H2341Z" fill="#f23645"/><path d="M2343 941.2H2422.5a2.5 2.5 0 0 1 2.5 2.5V968.1a2.5 2.5 0 0 1 -2.5 2.5H2343Z" fill="#fff"/><text x="2357.41" y="964.7" font-size="23.5" font-weight="400" fill="#f23645" text-anchor="start" textLength="55.93" lengthAdjust="spacingAndGlyphs">55.91</text><path d="M2341 981.1H2423a4 4 0 0 1 4 4V1010.9a4 4 0 0 1 -4 4H2341Z" fill="#f23645"/><text x="2357.36" y="1006.5" font-size="23.5" font-weight="400" fill="#fff" text-anchor="start" textLength="58.69" lengthAdjust="spacingAndGlyphs" stroke="#fff" stroke-width="0.5">55.88</text><path d="M2341 1160H2389.1a4 4 0 0 1 4 4V1190a4 4 0 0 1 -4 4H2341Z" fill="#f04848"/><path d="M2343 1162H2388.6a2.5 2.5 0 0 1 2.5 2.5V1189.5a2.5 2.5 0 0 1 -2.5 2.5H2343Z" fill="#fff"/><text x="2356.41" y="1186.1" font-size="24.3" font-weight="400" fill="#f04848" text-anchor="start" textLength="26.49" lengthAdjust="spacingAndGlyphs">27</text><text x="-28.03" y="1230.9" font-size="24" font-weight="400" fill="#0f0f0f" text-anchor="start" textLength="60.48" lengthAdjust="spacingAndGlyphs">22:30</text><text x="174.86" y="1230.9" font-size="24" font-weight="400" fill="#0f0f0f" text-anchor="start" textLength="60.48" lengthAdjust="spacingAndGlyphs">23:00</text><text x="377.75" y="1230.9" font-size="24" font-weight="400" fill="#0f0f0f" text-anchor="start" textLength="60.48" lengthAdjust="spacingAndGlyphs">23:30</text><text x="597.29" y="1230.9" font-size="24" font-weight="700" fill="#0f0f0f" text-anchor="start" textLength="27.04" lengthAdjust="spacingAndGlyphs">19</text><text x="784.02" y="1230.9" font-size="24" font-weight="400" fill="#0f0f0f" text-anchor="start" textLength="59.99" lengthAdjust="spacingAndGlyphs">00:30</text><text x="986.91" y="1230.9" font-size="24" font-weight="400" fill="#0f0f0f" text-anchor="start" textLength="59.99" lengthAdjust="spacingAndGlyphs">01:00</text><text x="1189.8" y="1230.9" font-size="24" font-weight="400" fill="#0f0f0f" text-anchor="start" textLength="59.99" lengthAdjust="spacingAndGlyphs">01:30</text><text x="1392.69" y="1230.9" font-size="24" font-weight="400" fill="#0f0f0f" text-anchor="start" textLength="59.99" lengthAdjust="spacingAndGlyphs">02:00</text><text x="1595.58" y="1230.9" font-size="24" font-weight="400" fill="#0f0f0f" text-anchor="start" textLength="59.99" lengthAdjust="spacingAndGlyphs">02:30</text><text x="1798.47" y="1230.9" font-size="24" font-weight="400" fill="#0f0f0f" text-anchor="start" textLength="59.99" lengthAdjust="spacingAndGlyphs">03:00</text><text x="2001.36" y="1230.9" font-size="24" font-weight="400" fill="#0f0f0f" text-anchor="start" textLength="59.99" lengthAdjust="spacingAndGlyphs">03:30</text><text x="2204.25" y="1230.9" font-size="24" font-weight="400" fill="#0f0f0f" text-anchor="start" textLength="59.99" lengthAdjust="spacingAndGlyphs">04:00</text><polygon points="2405.7,1223.0 2398.8,1234.9 2385.2,1234.9 2378.3,1223.0 2385.2,1211.1 2398.8,1211.1" fill="none" stroke="#0f0f0f" stroke-width="2" stroke-linejoin="miter"/><circle cx="2392" cy="1222.7" r="4" fill="none" stroke="#0f0f0f" stroke-width="2"/><circle cx="34.9" cy="27.8" r="18.1" fill="#141619"/><path d="M35 16.3 C33.2 19.5 27.9 25.8 27.9 31.1 A7.1 7.1 0 0 0 42.1 31.1 C42.1 25.8 36.8 19.5 35 16.3Z" fill="#fff"/><text x="60.07" y="39.5" font-size="33.2" font-weight="400" fill="#0f0f0f" text-anchor="start" textLength="71.26" lengthAdjust="spacingAndGlyphs">Light</text><text x="141.64" y="39.5" font-size="33.2" font-weight="400" fill="#0f0f0f" text-anchor="start" textLength="84.89" lengthAdjust="spacingAndGlyphs">Crude</text><text x="236.16" y="39.5" font-size="33.2" font-weight="400" fill="#0f0f0f" text-anchor="start" textLength="40.81" lengthAdjust="spacingAndGlyphs">Oil</text><text x="285.16" y="39.5" font-size="33.2" font-weight="400" fill="#0f0f0f" text-anchor="start" textLength="107.59" lengthAdjust="spacingAndGlyphs">Futures</text><circle cx="404.9" cy="29.5" r="2.6" fill="#0f0f0f"/><circle cx="445.8" cy="29.5" r="2.6" fill="#0f0f0f"/><text x="417.08" y="39.5" font-size="33.2" font-weight="400" fill="#0f0f0f" text-anchor="start" textLength="13.65" lengthAdjust="spacingAndGlyphs">1</text><text x="458.15" y="39.5" font-size="33.2" font-weight="400" fill="#0f0f0f" text-anchor="start" textLength="95.5" lengthAdjust="spacingAndGlyphs">NYMEX</text><path d="M579.6 16.2 H600.8 Q602.6 16.2 601.6 17.7 L595 28 L601.6 38.4 Q602.6 39.9 600.8 39.9 H579.6 Q578.1 39.9 578.1 38.4 V17.7 Q578.1 16.2 579.6 16.2Z" fill="#ff5252"/><path d="M644.2 9.9 H666 V45.8 H644.2 A17.95 17.95 0 0 1 644.2 9.9Z" fill="#dcf1ee"/><path d="M666 9.9 H688 A17.95 17.95 0 0 1 688 45.8 H666Z" fill="#fff3e0"/><circle cx="648.1" cy="28" r="8" fill="#089981"/><text x="676.02" y="37.4" font-size="26.4" font-weight="700" fill="#f57c00" text-anchor="start" textLength="15.99" lengthAdjust="spacingAndGlyphs">D</text><text x="722.05" y="36.5" font-size="25.7" font-weight="400" fill="#0f0f0f" text-anchor="start" textLength="18.49" lengthAdjust="spacingAndGlyphs">O</text><text x="742.68" y="36.5" font-size="26.3" font-weight="400" fill="#f23645" text-anchor="start" textLength="63.69" lengthAdjust="spacingAndGlyphs">55.89</text><text x="817.68" y="36.5" font-size="26.0" font-weight="400" fill="#0f0f0f" text-anchor="start" textLength="17.36" lengthAdjust="spacingAndGlyphs">H</text><text x="837.58" y="36.5" font-size="26.3" font-weight="400" fill="#f23645" text-anchor="start" textLength="63.69" lengthAdjust="spacingAndGlyphs">55.89</text><text x="912.49" y="36.5" font-size="26.0" font-weight="400" fill="#0f0f0f" text-anchor="start" textLength="13.97" lengthAdjust="spacingAndGlyphs">L</text><text x="928.58" y="36.5" font-size="26.3" font-weight="400" fill="#f23645" text-anchor="start" textLength="63.74" lengthAdjust="spacingAndGlyphs">55.88</text><text x="1003.91" y="36.5" font-size="25.7" font-weight="400" fill="#0f0f0f" text-anchor="start" textLength="15.8" lengthAdjust="spacingAndGlyphs">C</text><text x="1022.48" y="36.5" font-size="26.3" font-weight="400" fill="#f23645" text-anchor="start" textLength="63.64" lengthAdjust="spacingAndGlyphs">55.88</text><text x="1097.98" y="36.5" font-size="26.3" font-weight="400" fill="#f23645" text-anchor="start" textLength="64.29" lengthAdjust="spacingAndGlyphs">−0.02</text><text x="1171.06" y="36.5" font-size="25.511" font-weight="400" fill="#f23645" text-anchor="start" textLength="98.11" lengthAdjust="spacingAndGlyphs">(−0.04%)</text><rect x="15.9" y="61.2" width="106.8" height="65.5" rx="9" fill="#fff" stroke="#f23645" stroke-width="2"/><text x="37.84" y="88.5" font-size="23.6" font-weight="700" fill="#f23645" text-anchor="start" textLength="63.68" lengthAdjust="spacingAndGlyphs">55.83</text><text x="45.23" y="115.8" font-size="22.6" font-weight="400" fill="#f23645" text-anchor="start" textLength="47.28" lengthAdjust="spacingAndGlyphs">SELL</text><text x="139.92" y="100.9" font-size="19.4" font-weight="400" fill="#0f0f0f" text-anchor="start" textLength="37.47" lengthAdjust="spacingAndGlyphs">0.01</text><rect x="196" y="61.2" width="106.8" height="65.5" rx="9" fill="#fff" stroke="#2962ff" stroke-width="2"/><text x="217.64" y="88.5" font-size="23.6" font-weight="700" fill="#2962ff" text-anchor="start" textLength="63.56" lengthAdjust="spacingAndGlyphs">55.84</text><text x="228.32" y="115.8" font-size="22.6" font-weight="400" fill="#2962ff" text-anchor="start" textLength="40.72" lengthAdjust="spacingAndGlyphs">BUY</text><rect x="16.2" y="143" width="61.6" height="39.9" rx="4.5" fill="#fff" stroke="#dbdbdb" stroke-width="2"/><path d="M28.4 159.5 L35.9 165.9 L43.4 159.5" fill="none" stroke="#0f0f0f" stroke-width="2.3" stroke-linecap="round" stroke-linejoin="round"/><text x="54.39" y="171.7" font-size="26.8" font-weight="400" fill="#0f0f0f" text-anchor="start" textLength="14.29" lengthAdjust="spacingAndGlyphs">4</text></svg>
</body></html>
